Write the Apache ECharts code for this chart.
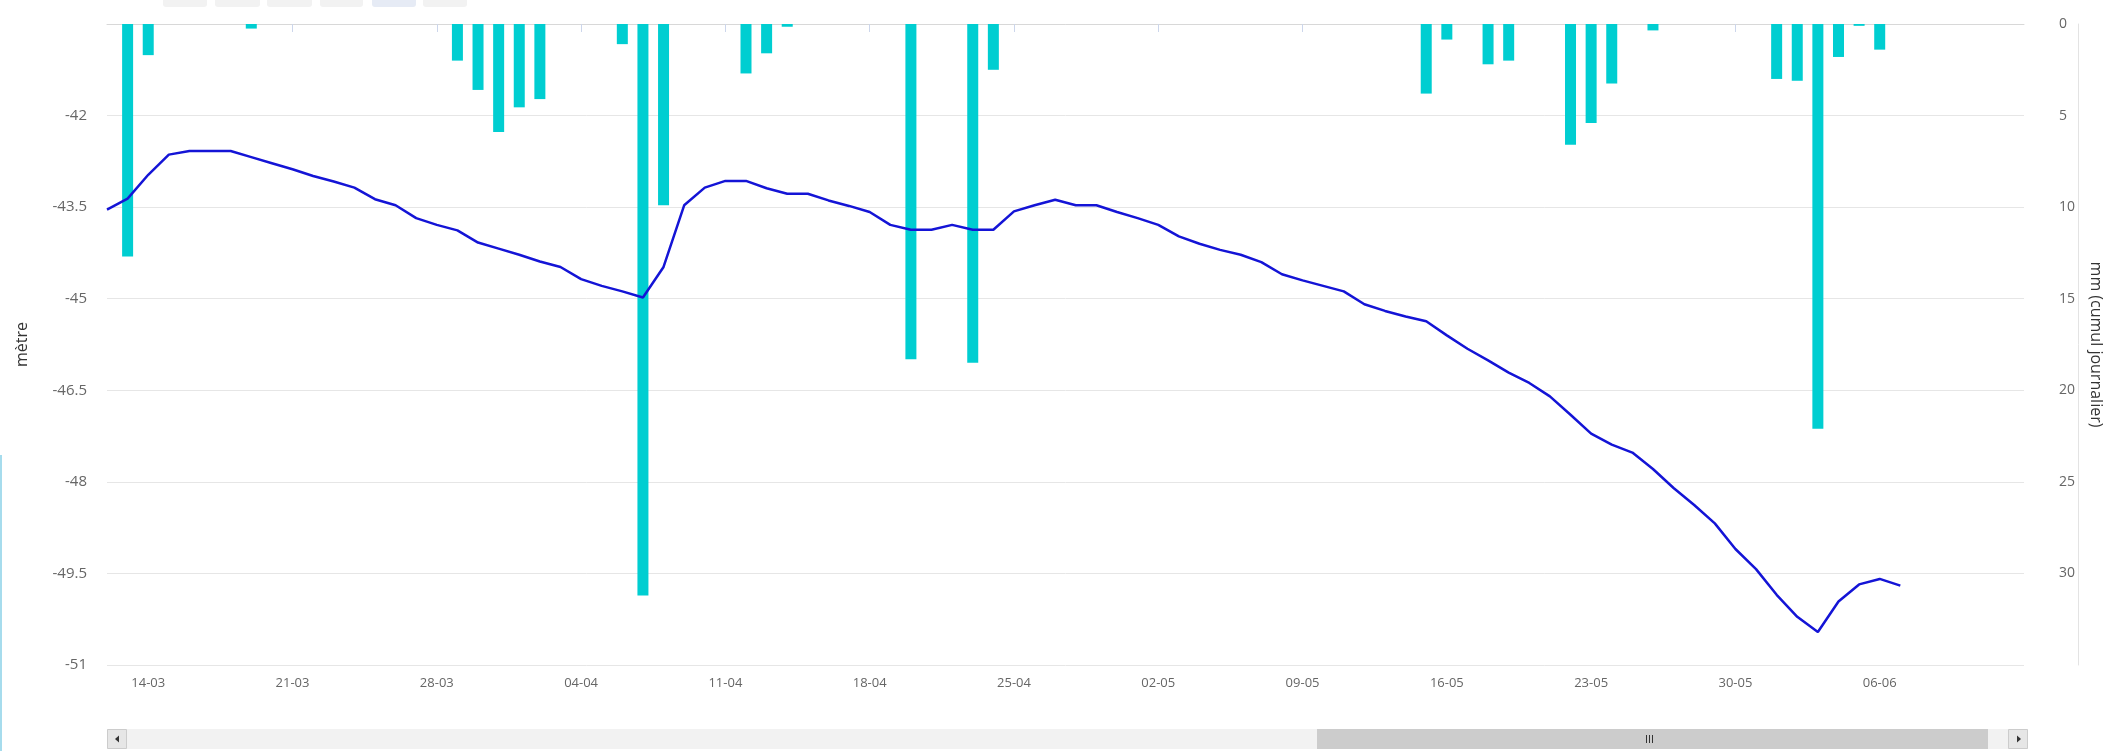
<!DOCTYPE html>
<html>
<head>
<meta charset="utf-8">
<script src="https://cdn.jsdelivr.net/npm/echarts@6/dist/echarts.min.js"></script>
<style>
html,body{margin:0;padding:0;background:#fff;}
#chart{width:2112px;height:751px;}
</style>
</head>
<body>
<div id="chart"></div>
<script>
// Daily categories (DD-MM)
const categories = [
 '12-03','13-03','14-03','15-03','16-03','17-03','18-03','19-03','20-03','21-03',
 '22-03','23-03','24-03','25-03','26-03','27-03','28-03','29-03','30-03','31-03',
 '01-04','02-04','03-04','04-04','05-04','06-04','07-04','08-04','09-04','10-04',
 '11-04','12-04','13-04','14-04','15-04','16-04','17-04','18-04','19-04','20-04',
 '21-04','22-04','23-04','24-04','25-04','26-04','27-04','28-04','29-04','30-04',
 '01-05','02-05','03-05','04-05','05-05','06-05','07-05','08-05','09-05','10-05',
 '11-05','12-05','13-05','14-05','15-05','16-05','17-05','18-05','19-05','20-05',
 '21-05','22-05','23-05','24-05','25-05','26-05','27-05','28-05','29-05','30-05',
 '31-05','01-06','02-06','03-06','04-06','05-06','06-06','07-06','08-06','09-06',
 '10-06','11-06','12-06','13-06'
];

// Tick labels shown on the x axis (weekly)
const weeklyLabels = ['14-03','21-03','28-03','04-04','11-04','18-04','25-04','02-05','09-05','16-05','23-05','30-05','06-06'];

// Water level (metre)
const levelValues = [
 -43.54,-43.36,-42.97,-42.64,-42.58,-42.58,-42.58,-42.68,-42.78,-42.88,
 -42.99,-43.08,-43.18,-43.37,-43.47,-43.68,-43.79,-43.88,-44.08,-44.18,
 -44.28,-44.39,-44.48,-44.68,-44.79,-44.88,-44.98,-44.48,-43.47,-43.18,
 -43.07,-43.07,-43.19,-43.28,-43.28,-43.39,-43.48,-43.58,-43.79,-43.87,
 -43.87,-43.79,-43.87,-43.87,-43.57,-43.47,-43.38,-43.47,-43.47,-43.58,
 -43.68,-43.79,-43.98,-44.10,-44.20,-44.28,-44.40,-44.60,-44.70,-44.79,
 -44.88,-45.09,-45.20,-45.29,-45.37,-45.60,-45.82,-46.01,-46.21,-46.38,
 -46.60,-46.90,-47.21,-47.39,-47.52,-47.79,-48.10,-48.38,-48.68,-49.10,
 -49.43,-49.85,-50.21,-50.46,-49.96,-49.68,-49.59,-49.70
];

// Daily rainfall (mm, cumul journalier)
const rainValues = [
 null,12.7,1.7,null,null,null,null,0.25,null,null,
 null,null,null,null,null,null,null,2.0,3.6,5.9,
 4.55,4.1,null,null,null,1.1,31.2,9.9,null,null,
 null,2.7,1.6,0.15,null,null,null,null,null,18.3,
 null,null,18.5,2.5,null,null,null,null,null,null,
 null,null,null,null,null,null,null,null,null,null,
 null,null,null,null,3.8,0.85,null,2.2,2.0,null,
 null,6.6,5.4,3.25,null,0.35,null,null,null,null,
 null,3.0,3.1,22.1,1.8,0.1,1.4,null,null,null,
 null,null,null,null
];

const levelAxis = {min: -51, max: -40.5, step: 1.5};
const rainAxis = {min: 0, max: 35, step: 5};

const chart = echarts.init(document.getElementById('chart'), null, {renderer: 'canvas'});
const labelFn = (i, v) => weeklyLabels.indexOf(categories[i]) !== -1;

const option = {
  animation: false,
  backgroundColor: '#ffffff',
  grid: {left: 107, right: 84, top: 24, bottom: 86, containLabel: false},
  xAxis: {
    type: 'category',
    data: categories,
    boundaryGap: false,
    axisLine: {show: true, lineStyle: {color: '#d8d8d8', width: 1}},
    axisTick: {show: true, interval: labelFn, length: 8, lineStyle: {color: '#ccd6eb'}},
    axisLabel: {interval: labelFn, color: '#666', fontSize: 13, margin: 12, fontFamily: 'Open Sans'},
    splitLine: {show: false}
  },
  yAxis: [
    {
      type: 'value',
      position: 'left',
      min: levelAxis.min, max: levelAxis.max, interval: levelAxis.step,
      name: 'mètre', nameLocation: 'middle', nameGap: 77, nameRotate: 90,
      nameTextStyle: {color: '#333', fontSize: 16, fontFamily: 'Open Sans'},
      axisLine: {show: false}, axisTick: {show: false},
      axisLabel: {color: '#666', fontSize: 15, margin: 20, showMaxLabel: false, fontFamily: 'Open Sans'},
      splitLine: {show: true, lineStyle: {color: '#e6e6e6', width: 1}}
    },
    {
      type: 'value',
      position: 'right',
      inverse: true,
      offset: 54,
      min: rainAxis.min, max: rainAxis.max, interval: rainAxis.step,
      name: 'mm (cumul journalier)', nameLocation: 'middle', nameGap: 10, nameRotate: -90,
      nameTextStyle: {color: '#333', fontSize: 16, fontFamily: 'Open Sans'},
      axisLine: {show: true, lineStyle: {color: '#e3e3e3', width: 1}},
      axisTick: {show: false},
      axisLabel: {inside: true, align: 'left', margin: 19, color: '#666', fontSize: 14, showMaxLabel: false, fontFamily: 'Open Sans'},
      splitLine: {show: false}
    }
  ],
  series: [
    {
      name: 'pluie',
      type: 'bar',
      yAxisIndex: 1,
      data: rainValues,
      barWidth: 11,
      itemStyle: {color: '#00ced1'},
      z: 2
    },
    {
      name: 'niveau',
      type: 'line',
      yAxisIndex: 0,
      data: levelValues,
      showSymbol: false,
      symbol: 'none',
      smooth: false,
      lineStyle: {color: '#1414d6', width: 2.5},
      z: 3
    }
  ],
  graphic: [
    // range buttons at top (cut off)
    {type: 'rect', shape: {x: 163, y: -6, width: 44, height: 13, r: 3}, style: {fill: '#f2f2f2'}},
    {type: 'rect', shape: {x: 215, y: -6, width: 45, height: 13, r: 3}, style: {fill: '#f2f2f2'}},
    {type: 'rect', shape: {x: 267, y: -6, width: 45, height: 13, r: 3}, style: {fill: '#f2f2f2'}},
    {type: 'rect', shape: {x: 320, y: -6, width: 43, height: 13, r: 3}, style: {fill: '#f2f2f2'}},
    {type: 'rect', shape: {x: 372, y: -6, width: 44, height: 13, r: 3}, style: {fill: '#e6ebf5'}},
    {type: 'rect', shape: {x: 423, y: -6, width: 44, height: 13, r: 3}, style: {fill: '#f2f2f2'}},
    // left page edge line
    {type: 'line', shape: {x1: 1, y1: 455, x2: 1, y2: 751}, style: {stroke: '#a6dced', lineWidth: 2}},
    // scrollbar
    {type: 'rect', shape: {x: 107, y: 729, width: 1921, height: 20}, style: {fill: '#f2f2f2'}},
    {type: 'rect', shape: {x: 1317, y: 729, width: 671, height: 20}, style: {fill: '#cccccc'}},
    {type: 'line', shape: {x1: 1646.5, y1: 735, x2: 1646.5, y2: 743}, style: {stroke: '#333', lineWidth: 1}},
    {type: 'line', shape: {x1: 1649.5, y1: 735, x2: 1649.5, y2: 743}, style: {stroke: '#333', lineWidth: 1}},
    {type: 'line', shape: {x1: 1652.5, y1: 735, x2: 1652.5, y2: 743}, style: {stroke: '#333', lineWidth: 1}},
    {type: 'rect', shape: {x: 107.5, y: 729.5, width: 19, height: 19}, style: {fill: '#e6e6e6', stroke: '#cccccc', lineWidth: 1}},
    {type: 'polygon', shape: {points: [[115, 739], [119, 735.5], [119, 742.5]]}, style: {fill: '#333'}},
    {type: 'rect', shape: {x: 2008.5, y: 729.5, width: 19, height: 19}, style: {fill: '#e6e6e6', stroke: '#cccccc', lineWidth: 1}},
    {type: 'polygon', shape: {points: [[2021, 739], [2017, 735.5], [2017, 742.5]]}, style: {fill: '#333'}}
  ]
};
chart.setOption(option);
</script>
</body>
</html>
